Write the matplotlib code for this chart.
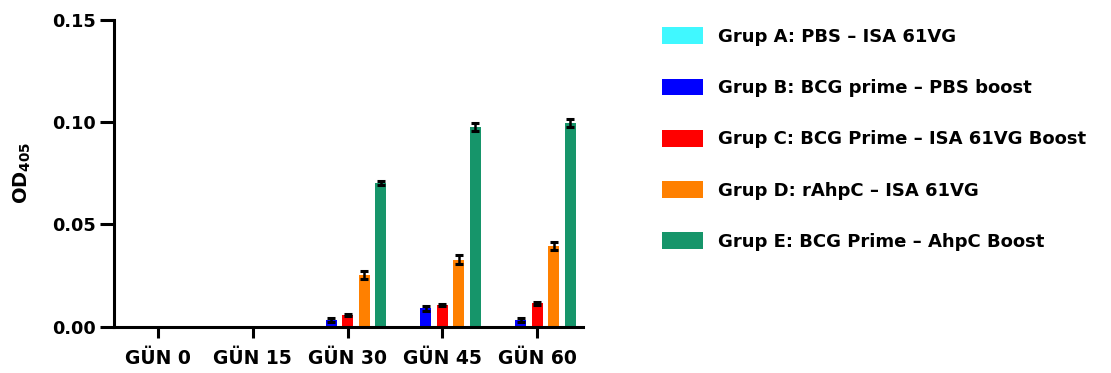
import matplotlib
matplotlib.use("Agg")
import matplotlib.pyplot as plt
import numpy as np
from matplotlib.patches import Patch

days = ["GÜN 0", "GÜN 15", "GÜN 30", "GÜN 45", "GÜN 60"]
groups = ["Grup A: PBS – ISA 61VG",
          "Grup B: BCG prime – PBS boost",
          "Grup C: BCG Prime – ISA 61VG Boost",
          "Grup D: rAhpC – ISA 61VG",
          "Grup E: BCG Prime – AhpC Boost"]
colors = ["#40F8FF", "#0000FF", "#FF0000", "#FF8000", "#16956A"]

grupA = [0.0, 0.0, 0.0, 0.0, 0.0]
grupB = [0.0, 0.0, 0.0033, 0.0089, 0.0033]
grupC = [0.0, 0.0, 0.0057, 0.0106, 0.0114]
grupD = [0.0, 0.0, 0.0252, 0.0326, 0.0395]
grupE = [0.0, 0.0, 0.0703, 0.0975, 0.0995]
errA = [0, 0, 0, 0, 0]
errB = [0, 0, 0.0010, 0.0010, 0.0008]
errC = [0, 0, 0.0007, 0.0007, 0.0008]
errD = [0, 0, 0.0020, 0.0022, 0.0018]
errE = [0, 0, 0.0010, 0.0020, 0.0020]
values = [grupA, grupB, grupC, grupD, grupE]
errors = [errA, errB, errC, errD, errE]

BOLD = dict(fontfamily="DejaVu Sans", fontweight="bold")

fig = plt.figure(figsize=(11.11, 3.73), dpi=100)
ax = fig.add_axes([0.1026, 0.1241, 0.4222, 0.8233])

x = np.arange(len(days))
step = 0.174
width = 0.116
for i, (vals, errs, c) in enumerate(zip(values, errors, colors)):
    pos = x + (i - 2) * step
    ax.bar(pos, vals, width=width, color=c, zorder=2)
    mask = np.array(vals) > 0
    ax.errorbar(pos[mask], np.array(vals)[mask], yerr=np.array(errs)[mask],
                fmt='none', ecolor='black', elinewidth=1.8, capsize=3,
                capthick=2.2, zorder=3)

ax.set_xlim(-0.464, 4.485)
ax.set_ylim(0, 0.15)
ax.set_yticks([0.0, 0.05, 0.10, 0.15])
ax.set_yticklabels(["0.00", "0.05", "0.10", "0.15"], fontsize=12.8, **BOLD)
ax.set_xticks(x)
ax.set_xticklabels(days, fontsize=13.5, **BOLD)
for s in ["top", "right"]:
    ax.spines[s].set_visible(False)
for s in ["left", "bottom"]:
    ax.spines[s].set_linewidth(2.2)
ax.tick_params(axis='y', length=10, width=2.2, pad=3)
ax.tick_params(axis='x', length=8, width=2.2, pad=8)
ax.set_ylabel("OD$_{\\mathbf{405}}$", fontsize=14, **BOLD)
ax.yaxis.set_label_coords(-0.173, 0.5)

handles = [Patch(facecolor=c, edgecolor='none') for c in colors]
fig.legend(handles, groups, loc='upper left', bbox_to_anchor=(0.5896, 0.946),
           frameon=False, prop={'family': 'DejaVu Sans', 'weight': 'bold', 'size': 13},
           handlelength=2.28, handleheight=1.05, handletextpad=0.78,
           labelspacing=1.81, borderaxespad=0)

fig.savefig("out.png", dpi=100)
